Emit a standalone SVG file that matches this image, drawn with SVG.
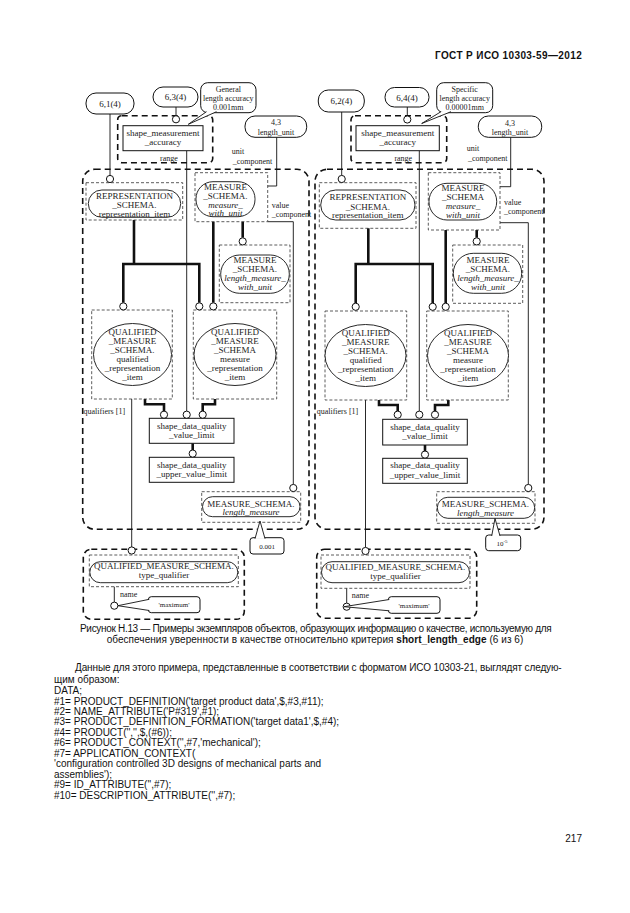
<svg xmlns="http://www.w3.org/2000/svg" width="630" height="913" viewBox="0 0 630 913">
<style>
.big{fill:none;stroke:#111;stroke-width:1.6;stroke-dasharray:6 4}
.dbox{fill:none;stroke:#333;stroke-width:0.8;stroke-dasharray:3 2}
.ent{fill:#fff;stroke:#111;stroke-width:0.9}
.box{fill:#fff;stroke:#111;stroke-width:1}
.ref{fill:#fff;stroke:#111;stroke-width:1}
.thin{fill:none;stroke:#111;stroke-width:0.9}
.thick{fill:none;stroke:#111;stroke-width:2.6}
.c{fill:#fff;stroke:#111;stroke-width:1}
.tail{fill:#fff;stroke:#111;stroke-width:0.9}
.t{font-family:"Liberation Serif","Times New Roman",serif;font-size:9px;fill:#222;text-anchor:middle}
.s{font-size:8px}
.xs{font-size:7px}
.i{font-style:italic}
.l{text-anchor:start}
.p{font-family:"Liberation Sans",Arial,sans-serif;font-size:10px;fill:#111}
</style>
<rect width="630" height="913" fill="#fff"/>
<text class="p" x="435" y="59.3" font-weight="bold" font-size="11" textLength="146.7">ГОСТ Р ИСО 10303-59—2012</text>

<!-- LEFT DIAGRAM -->
<g id="left-frames">
<rect class="big" x="82.7" y="169.3" width="226.3" height="360" rx="12"/>
<rect class="big" x="117.7" y="115.7" width="95" height="47" rx="4"/>
<rect class="big" x="83.3" y="549.3" width="161" height="70" rx="8"/>
</g>
<g id="left-connectors">
<path class="thin" d="M110,114 V175.4 M176,107 V115.7 M276.7,137.3 V186 H267.7 M267.7,221.7 H293.3 V484.3 M186.7,150.7 V411 M131.7,399 V547 M114.3,586.7 V602"/>
<path class="thick" d="M134,220 V264 M123.3,302.7 V264 H199.3 V302.7 M213.3,221.7 V302.7 M242.7,221.7 V237.8 M145,399 V404.3 H164 V411 M215,399 V404.3 H202.7 V411 M192.7,443.3 V450"/>
</g>
<g id="L-6-1-4"><rect class="ref" x="86" y="93" width="48" height="21" rx="10"/><text class="t" x="110" y="106.7">6,1(4)</text></g>
<g id="L-6-3-4"><rect class="ref" x="153" y="87" width="45" height="20" rx="10"/><text class="t" x="175.5" y="100.3">6,3(4)</text></g>
<g id="L-general">
<rect class="ref" x="200.7" y="82.7" width="55.3" height="30" rx="7"/>
<path class="tail" d="M206.5,111.7 L188.3,124.3 L216.5,111.7"/>
<text class="t s" x="228.3" y="91.5">General</text>
<text class="t s" x="228.3" y="101">length accuracy</text>
<text class="t s" x="228.3" y="110.3">0.001mm</text>
</g>
<g id="L-length-unit"><rect class="ref" x="245" y="116" width="61.7" height="21.3" rx="10"/><text class="t s" x="276" y="125">4,3</text><text class="t s" x="276" y="134.5">length_unit</text></g>
<g id="L-shape-measurement-accuracy"><rect class="box" x="123" y="125.7" width="80" height="25"/><text class="t" x="163" y="135.6">shape_measurement</text><text class="t" x="163" y="145.2">_accuracy</text></g>
<text class="t s" x="169" y="160.5">range</text>
<text class="t s l" x="231.7" y="154">unit</text>
<text class="t s l" x="232.7" y="163.5">_component</text>
<g id="L-representation-item">
<rect class="dbox" x="86" y="182.7" width="96.7" height="37.3"/>
<rect class="ent" x="88.3" y="190" width="92.4" height="27.3" rx="13.6"/>
<text class="t" x="134.5" y="199.3">REPRESENTATION</text>
<text class="t" x="134.5" y="208.2">_SCHEMA.</text>
<text class="t" x="134.5" y="216.5">representation_item</text>
</g>
<g id="L-measure-with-unit">
<rect class="dbox" x="195" y="172.7" width="72.7" height="49"/>
<rect class="ent" x="196" y="181.7" width="59" height="35" rx="17"/>
<text class="t" x="225.5" y="189.5">MEASURE</text>
<text class="t" x="225.5" y="198.5">_SCHEMA.</text>
<text class="t i" x="225.5" y="207.5">measure_</text>
<text class="t i" x="225.5" y="216.3">with_unit</text>
</g>
<text class="t s l" x="271.7" y="208">value</text>
<text class="t s l" x="271.7" y="217">_component</text>
<g id="L-length-measure-with-unit">
<rect class="dbox" x="219.3" y="245" width="70.7" height="57.7"/>
<rect class="ent" x="220.7" y="255" width="68.6" height="38.3" rx="19"/>
<text class="t" x="255" y="262.5">MEASURE</text>
<text class="t" x="255" y="271.5">_SCHEMA.</text>
<text class="t i" x="255" y="280.5">length_measure_</text>
<text class="t i" x="255" y="289.5">with_unit</text>
</g>
<g id="L-qualified-representation-item">
<rect class="dbox" x="91.7" y="310" width="80.6" height="89"/>
<ellipse class="ent" cx="132.5" cy="354.5" rx="39" ry="31"/>
<text class="t" x="132.5" y="335">QUALIFIED</text>
<text class="t" x="132.5" y="344">_MEASURE</text>
<text class="t" x="132.5" y="353">_SCHEMA.</text>
<text class="t" x="132.5" y="362">qualified</text>
<text class="t" x="132.5" y="371">_representation</text>
<text class="t" x="132.5" y="380">_item</text>
</g>
<g id="L-measure-representation-item">
<rect class="dbox" x="193.3" y="310" width="83.4" height="89"/>
<ellipse class="ent" cx="235" cy="354.5" rx="41" ry="31"/>
<text class="t" x="235" y="335">QUALIFIED</text>
<text class="t" x="235" y="344">_MEASURE</text>
<text class="t" x="235" y="353">_SCHEMA</text>
<text class="t" x="235" y="362">measure</text>
<text class="t" x="235" y="371">_representation</text>
<text class="t" x="235" y="380">_item</text>
</g>
<text class="t s l" x="83.5" y="414">qualifiers [1]</text>
<g id="L-value-limit"><rect class="box" x="149.3" y="418.3" width="84.7" height="25"/><text class="t" x="191.7" y="428.7">shape_data_quality</text><text class="t" x="191.7" y="437.9">_value_limit</text></g>
<g id="L-upper-value-limit"><rect class="box" x="149.3" y="457.3" width="84.7" height="25"/><text class="t" x="191.7" y="467.7">shape_data_quality</text><text class="t" x="191.7" y="477.2">_upper_value_limit</text></g>
<g id="L-length-measure">
<rect class="dbox" x="201.7" y="491.7" width="99" height="30.6"/>
<rect class="ent" x="202.5" y="496.7" width="97.5" height="20" rx="10"/>
<text class="t" x="251" y="506.5">MEASURE_SCHEMA.</text>
<text class="t i" x="251" y="515">length_measure</text>
</g>
<g id="L-value-0001">
<rect class="ref" x="250" y="537.7" width="34" height="16.3" rx="3"/>
<path class="tail" d="M255,538.7 L260,521 L265,538.7"/>
<text class="t xs" x="267" y="548.5">0.001</text>
</g>
<g id="L-type-qualifier">
<rect class="dbox" x="89.3" y="555" width="149" height="31.7"/>
<rect class="ent" x="89.8" y="561.7" width="148" height="21" rx="10.5"/>
<text class="t" x="164" y="569">QUALIFIED_MEASURE_SCHEMA.</text>
<text class="t" x="164" y="578.2">type_qualifier</text>
</g>
<text class="t s l" x="120" y="596.5">name</text>
<g id="L-maximum">
<rect class="ref" x="148.3" y="596.7" width="51.7" height="16" rx="3"/>
<path class="tail" d="M149.3,599.3 L117.9,605.7 L149.3,610.5"/>
<text class="t xs" x="174" y="607.3">'maximum'</text>
</g>
<g id="left-circles">
<circle class="c" cx="176" cy="119.3" r="3.6"/>
<circle class="c" cx="110" cy="179" r="3.6"/>
<circle class="c" cx="242.7" cy="241.4" r="3.6"/>
<circle class="c" cx="123.3" cy="306.4" r="3.6"/>
<circle class="c" cx="199.3" cy="306.4" r="3.6"/>
<circle class="c" cx="213.3" cy="306.4" r="3.6"/>
<circle class="c" cx="164" cy="414.7" r="3.6"/>
<circle class="c" cx="186.7" cy="414.7" r="3.6"/>
<circle class="c" cx="202.7" cy="414.7" r="3.6"/>
<circle class="c" cx="192.7" cy="453.6" r="3.6"/>
<circle class="c" cx="293.3" cy="488" r="3.6"/>
<circle class="c" cx="131.7" cy="550.5" r="3.6"/>
<circle class="c" cx="114.3" cy="605.7" r="3.6"/>
</g>

<!-- RIGHT DIAGRAM -->
<g id="right-frames">
<rect class="big" x="315" y="169.3" width="229" height="360" rx="12"/>
<rect class="big" x="351" y="115.7" width="95.7" height="47" rx="4"/>
<rect class="big" x="316.7" y="549.3" width="160" height="69" rx="8"/>
</g>
<g id="right-connectors">
<path class="thin" d="M341.7,112 V175.4 M407.3,107 V115.9 M510.7,137.3 V186.7 H500 M500,222.7 H528.3 V484.3 M419.3,150.7 V411 M365.5,400 V547.4 M346.7,588.3 V603"/>
<path class="thick" d="M368.3,228.3 V264 M355.7,302.9 V264 H432.7 V302.9 M445.7,230 V302.9 M476.7,230 V237.8 M379,400 V405 H397.7 V411 M448.3,400 V405 H435 V411 M425,445 V451"/>
</g>
<g id="R-6-2-4"><rect class="ref" x="318.3" y="90" width="46" height="22" rx="10"/><text class="t" x="341.3" y="104.2">6,2(4)</text></g>
<g id="R-6-4-4"><rect class="ref" x="385" y="87.5" width="44" height="19.5" rx="9.5"/><text class="t" x="407" y="100.6">6,4(4)</text></g>
<g id="R-specific">
<rect class="ref" x="436.7" y="82.7" width="56" height="30" rx="7"/>
<path class="tail" d="M441,111.7 L421.7,123.5 L451,111.7"/>
<text class="t s" x="464.7" y="91.5">Specific</text>
<text class="t s" x="464.7" y="101">length accuracy</text>
<text class="t s" x="464.7" y="110.3">0.00001mm</text>
</g>
<g id="R-length-unit"><rect class="ref" x="478.3" y="116" width="63.4" height="21.3" rx="10"/><text class="t s" x="510" y="125.5">4,3</text><text class="t s" x="510" y="135">length_unit</text></g>
<g id="R-shape-measurement-accuracy"><rect class="box" x="356" y="125.7" width="83.3" height="25"/><text class="t" x="397.7" y="135.6">shape_measurement</text><text class="t" x="397.7" y="145.2">_accuracy</text></g>
<text class="t s" x="403.3" y="161">range</text>
<text class="t s l" x="466.7" y="151">unit</text>
<text class="t s l" x="468" y="160.5">_component</text>
<g id="R-representation-item">
<rect class="dbox" x="319.3" y="182.7" width="96.7" height="45.6"/>
<rect class="ent" x="320.7" y="190" width="94.3" height="30" rx="15"/>
<text class="t" x="367.8" y="200">REPRESENTATION</text>
<text class="t" x="367.8" y="209.5">_SCHEMA.</text>
<text class="t" x="367.8" y="218">representation_item</text>
</g>
<g id="R-measure-with-unit">
<rect class="dbox" x="428.3" y="172.7" width="71.7" height="57.3"/>
<rect class="ent" x="429" y="183.3" width="67.7" height="36.7" rx="18"/>
<text class="t" x="463" y="190.5">MEASURE</text>
<text class="t" x="463" y="199.5">_SCHEMA</text>
<text class="t i" x="463" y="208.5">measure_</text>
<text class="t i" x="463" y="217.5">with_unit</text>
</g>
<text class="t s l" x="504" y="205">value</text>
<text class="t s l" x="504" y="214">_component</text>
<g id="R-length-measure-with-unit">
<rect class="dbox" x="452.7" y="245" width="70" height="58.3"/>
<rect class="ent" x="453.3" y="253.3" width="68.4" height="40" rx="20"/>
<text class="t" x="488" y="263">MEASURE</text>
<text class="t" x="488" y="272">_SCHEMA.</text>
<text class="t i" x="488" y="281">length_measure_</text>
<text class="t i" x="488" y="290">with_unit</text>
</g>
<g id="R-qualified-representation-item">
<rect class="dbox" x="325" y="311" width="81.7" height="89"/>
<ellipse class="ent" cx="365.5" cy="355.5" rx="40.5" ry="31"/>
<text class="t" x="365.7" y="336">QUALIFIED</text>
<text class="t" x="365.7" y="345">_MEASURE</text>
<text class="t" x="365.7" y="354">_SCHEMA.</text>
<text class="t" x="365.7" y="363">qualified</text>
<text class="t" x="365.7" y="372">_representation</text>
<text class="t" x="365.7" y="381">_item</text>
</g>
<g id="R-measure-representation-item">
<rect class="dbox" x="426.7" y="311" width="81.6" height="89"/>
<ellipse class="ent" cx="468" cy="355.5" rx="40.5" ry="31"/>
<text class="t" x="468" y="336">QUALIFIED</text>
<text class="t" x="468" y="345">_MEASURE</text>
<text class="t" x="468" y="354">_SCHEMA</text>
<text class="t" x="468" y="363">measure</text>
<text class="t" x="468" y="372">_representation</text>
<text class="t" x="468" y="381">_item</text>
</g>
<text class="t s l" x="316.7" y="414">qualifiers [1]</text>
<g id="R-value-limit"><rect class="box" x="382.7" y="419.3" width="84.6" height="25.7"/><text class="t" x="425" y="429.7">shape_data_quality</text><text class="t" x="425" y="439.2">_value_limit</text></g>
<g id="R-upper-value-limit"><rect class="box" x="382.7" y="458.3" width="84.6" height="25"/><text class="t" x="425" y="468">shape_data_quality</text><text class="t" x="425" y="478">_upper_value_limit</text></g>
<g id="R-length-measure">
<rect class="dbox" x="436.7" y="491.7" width="98.3" height="31.6"/>
<rect class="ent" x="437.3" y="497.3" width="97.4" height="21" rx="10.5"/>
<text class="t" x="485.5" y="506.7">MEASURE_SCHEMA.</text>
<text class="t i" x="485.5" y="515.5">length_measure</text>
</g>
<g id="R-value-1e-5">
<rect class="ref" x="485.7" y="535" width="35" height="15.7" rx="3"/>
<path class="tail" d="M491.7,536 L495,518.5 L500,536"/>
<text class="t xs" x="502" y="546">10<tspan font-size="5" dy="-3">-5</tspan></text>
</g>
<g id="R-type-qualifier">
<rect class="dbox" x="321" y="555" width="149" height="33.3"/>
<rect class="ent" x="321.5" y="561.7" width="148" height="21" rx="10.5"/>
<text class="t" x="395.5" y="569.5">QUALIFIED_MEASURE_SCHEMA.</text>
<text class="t" x="395.5" y="578.7">type_qualifier</text>
</g>
<text class="t s l" x="351.7" y="598">name</text>
<g id="right-circles">
<circle class="c" cx="407.3" cy="119.5" r="3.6"/>
<circle class="c" cx="341.7" cy="179" r="3.6"/>
<circle class="c" cx="476.7" cy="241.4" r="3.6"/>
<circle class="c" cx="355.7" cy="306.8" r="3.6"/>
<circle class="c" cx="432.7" cy="306.8" r="3.6"/>
<circle class="c" cx="445.7" cy="306.8" r="3.6"/>
<circle class="c" cx="397.7" cy="414.7" r="3.6"/>
<circle class="c" cx="419.3" cy="414.7" r="3.6"/>
<circle class="c" cx="435" cy="414.7" r="3.6"/>
<circle class="c" cx="425" cy="454.6" r="3.6"/>
<circle class="c" cx="528.3" cy="488" r="3.6"/>
<circle class="c" cx="365.5" cy="551" r="3.6"/>
<circle class="c" cx="346.7" cy="606.7" r="3.6"/>
</g>
<g id="R-maximum">
<rect class="ref" x="388.3" y="596.7" width="51.7" height="16.6" rx="3"/>
<path class="tail" d="M389.3,599.5 L344,606.7 L389.3,610.8"/>
<text class="t xs" x="414" y="607.7">'maximum'</text>
</g>

<!-- CAPTION AND BODY TEXT -->
<text class="p" x="80" y="631.5" font-size="9.2" textLength="471.7">Рисунок Н.13 — Примеры экземпляров объектов, образующих информацию о качестве, используемую для</text>
<text class="p" x="106.7" y="643" font-size="9.2" textLength="416.6">обеспечения уверенности в качестве относительно критерия <tspan font-weight="bold">short_length_edge</tspan> (6 из 6)</text>
<text class="p" x="75" y="671.3" font-size="9.6" textLength="486.7">Данные для этого примера, представленные в соответствии с форматом ИСО 10303-21, выглядят следую-</text>
<text class="p" x="54" y="682.7" font-size="9.6">щим образом:</text>
<text class="p" x="54" y="694">DATA;</text>
<text class="p" x="54" y="704.5">#1= PRODUCT_DEFINITION('target product data',$,#3,#11);</text>
<text class="p" x="54" y="715">#2= NAME_ATTRIBUTE('P#319',#1);</text>
<text class="p" x="54" y="725.4">#3= PRODUCT_DEFINITION_FORMATION('target data1',$,#4);</text>
<text class="p" x="54" y="735.9">#4= PRODUCT('','',$,(#6));</text>
<text class="p" x="54" y="746.3">#6= PRODUCT_CONTEXT('',#7,'mechanical');</text>
<text class="p" x="54" y="756.8">#7= APPLICATION_CONTEXT(</text>
<text class="p" x="54" y="767.2">'configuration controlled 3D designs of mechanical parts and</text>
<text class="p" x="54" y="777.7">assemblies');</text>
<text class="p" x="54" y="788.1">#9= ID_ATTRIBUTE('',#7);</text>
<text class="p" x="54" y="798.6">#10= DESCRIPTION_ATTRIBUTE('',#7);</text>
<text class="p" x="582" y="841.5" text-anchor="end">217</text>
</svg>
